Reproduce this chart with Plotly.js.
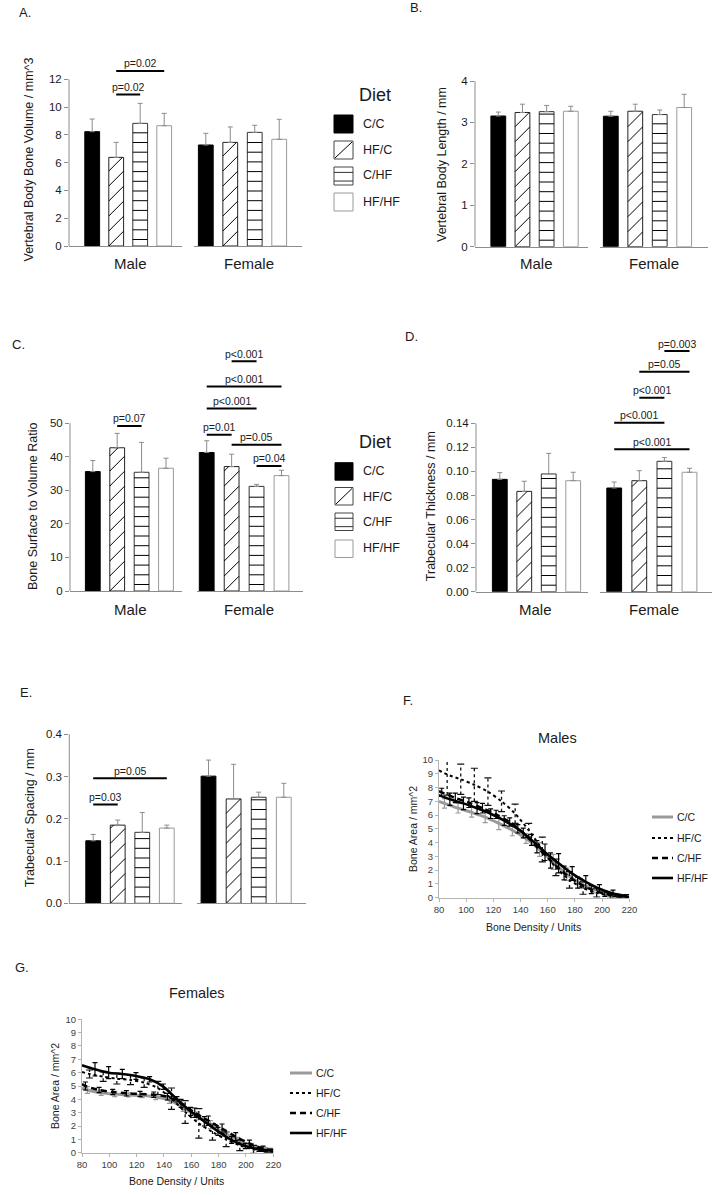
<!DOCTYPE html>
<html><head><meta charset="utf-8">
<script src="https://cdn.plot.ly/plotly-3.0.1.min.js"></script>
<style>html,body{margin:0;padding:0;background:#fff}#chart{width:715px;height:1195px}</style>
</head><body><div id="chart"></div>
<script>
// ---------------- DATA ----------------
const diets = ['C/C', 'HF/C', 'C/HF', 'HF/HF'];
const groups = ['Male', 'Female'];

// A. Vertebral body bone volume (mm^3)
const volumeMale = [8.23, 6.38, 8.83, 8.66];
const volumeMaleErr = [0.91, 1.08, 1.44, 0.89];
const volumeFemale = [7.27, 7.46, 8.18, 7.68];
const volumeFemaleErr = [0.84, 1.11, 0.51, 1.44];
const volumeTicks = [0, 2, 4, 6, 8, 10, 12];
const volumeTickText = ['0', '2', '4', '6', '8', '10', '12'];
const volumeSigGroup = ['Male', 'Male'];
const volumeSigFrom = [1, 1];
const volumeSigTo = [2, 3];
const volumeSigLevel = [10.9, 12.6];
const volumeSigText = ['p=0.02', 'p=0.02'];

// B. Vertebral body length (mm)
const lengthMale = [3.155, 3.24, 3.26, 3.27];
const lengthMaleErr = [0.095, 0.20, 0.15, 0.12];
const lengthFemale = [3.15, 3.27, 3.19, 3.36];
const lengthFemaleErr = [0.12, 0.17, 0.11, 0.32];
const lengthTicks = [0, 1, 2, 3, 4];
const lengthTickText = ['0', '1', '2', '3', '4'];

// C. Bone surface to volume ratio
const ratioMale = [35.6, 42.7, 35.4, 36.6];
const ratioMaleErr = [3.3, 4.3, 8.9, 3.0];
const ratioFemale = [41.3, 37.1, 31.2, 34.4];
const ratioFemaleErr = [3.5, 3.7, 0.6, 1.6];
const ratioTicks = [0, 10, 20, 30, 40, 50];
const ratioTickText = ['0', '10', '20', '30', '40', '50'];
const ratioSigGroup = ['Male', 'Female', 'Female', 'Female', 'Female', 'Female', 'Female'];
const ratioSigFrom = [1, 0, 1, 2, 0, 0, 1];
const ratioSigTo = [2, 1, 3, 3, 2, 3, 2];
const ratioSigLevel = [49.2, 46.6, 43.6, 37.3, 54.4, 61.0, 68.5];
const ratioSigText = ['p=0.07', 'p=0.01', 'p=0.05', 'p=0.04', 'p<0.001', 'p<0.001', 'p<0.001'];

// D. Trabecular thickness (mm)
const thickMale = [0.0934, 0.0834, 0.0979, 0.0923];
const thickMaleErr = [0.0056, 0.0084, 0.0171, 0.0070];
const thickFemale = [0.0862, 0.0923, 0.1084, 0.0993];
const thickFemaleErr = [0.0050, 0.0083, 0.0031, 0.0033];
const thickTicks = [0, 0.02, 0.04, 0.06, 0.08, 0.10, 0.12, 0.14];
const thickTickText = ['0.00', '0.02', '0.04', '0.06', '0.08', '0.10', '0.12', '0.14'];
const thickSigGroup = ['Female', 'Female', 'Female', 'Female', 'Female'];
const thickSigFrom = [0, 0, 1, 1, 2];
const thickSigTo = [3, 2, 2, 3, 3];
const thickSigLevel = [0.1184, 0.1405, 0.1613, 0.1829, 0.2001];
const thickSigText = ['p<0.001', 'p<0.001', 'p<0.001', 'p=0.05', 'p=0.003'];

// E. Trabecular spacing (mm)
const spacingMale = [0.148, 0.185, 0.168, 0.178];
const spacingMaleErr = [0.015, 0.012, 0.047, 0.007];
const spacingFemale = [0.301, 0.247, 0.251, 0.251];
const spacingFemaleErr = [0.038, 0.082, 0.012, 0.033];
const spacingTicks = [0, 0.1, 0.2, 0.3, 0.4];
const spacingTickText = ['0.0', '0.1', '0.2', '0.3', '0.4'];
const spacingSigGroup = ['Male', 'Male'];
const spacingSigFrom = [0, 0];
const spacingSigTo = [3, 1];
const spacingSigLevel = [0.296, 0.234];
const spacingSigText = ['p=0.05', 'p=0.03'];

// F/G. Bone area vs bone density
const densityTicks = [80, 100, 120, 140, 160, 180, 200, 220];
const areaTicks = [0, 1, 2, 3, 4, 5, 6, 7, 8, 9, 10];

// Males
const mDensCC = [80, 84, 94, 104, 114, 124, 134, 144, 154, 164, 174, 184, 194, 204, 214, 220];
const mAreaCC = [7.0, 6.85, 6.5, 6.2, 5.85, 5.4, 4.9, 4.3, 3.5, 2.6, 1.7, 1.05, 0.6, 0.3, 0.1, 0.05];
const mErrCC = [NaN, 0.35, 0.35, 0.35, 0.4, 0.45, 0.4, 0.35, 0.5, 0.55, 0.45, 0.35, 0.25, 0.15, 0.1, NaN];
const mDensHFC = [80, 86, 96, 106, 116, 126, 136, 146, 156, 166, 176, 186, 196, 206, 216, 220];
const mAreaHFC = [9.25, 8.95, 8.6, 8.2, 7.7, 7.0, 6.1, 4.9, 3.5, 2.2, 1.3, 0.7, 0.35, 0.15, 0.05, 0.02];
const mErrHFC = [NaN, 1.5, 1.1, 1.2, 1.0, 0.75, 0.7, 0.5, 0.9, 0.6, 0.6, 0.45, 0.3, 0.2, 0.1, NaN];
const mDensCHF = [80, 82, 92, 102, 112, 122, 132, 142, 152, 162, 172, 182, 192, 202, 212, 220];
const mAreaCHF = [7.75, 7.65, 7.25, 6.9, 6.5, 6.05, 5.5, 4.7, 3.7, 2.7, 1.8, 1.1, 0.6, 0.3, 0.12, 0.05];
const mErrCHF = [NaN, 0.3, 0.35, 0.35, 0.35, 0.3, 0.3, 0.35, 0.45, 0.55, 0.5, 0.4, 0.3, 0.2, 0.1, NaN];
const mDensHFHF = [80, 88, 98, 108, 118, 128, 138, 148, 158, 168, 178, 188, 198, 208, 218];
const mAreaHFHF = [7.45, 7.15, 6.85, 6.5, 6.1, 5.6, 5.0, 4.2, 3.3, 2.5, 1.75, 1.15, 0.65, 0.3, 0.12];
const mErrHFHF = [NaN, 0.45, 0.45, 0.4, 0.35, 0.35, 0.3, 0.4, 0.6, 0.7, 0.5, 0.45, 0.3, 0.25, 0.1];

// Females
const fDensCC = [80, 84, 94, 104, 114, 124, 134, 144, 154, 164, 174, 184, 194, 204, 214, 220];
const fAreaCC = [4.85, 4.7, 4.5, 4.4, 4.33, 4.28, 4.18, 3.95, 3.4, 2.75, 2.1, 1.5, 0.95, 0.55, 0.3, 0.25];
const fErrCC = [NaN, 0.25, 0.2, 0.2, 0.15, 0.15, 0.2, 0.25, 0.3, 0.3, 0.3, 0.25, 0.2, 0.15, 0.1, NaN];
const fDensHFC = [80, 85.5, 95.5, 105.5, 115.5, 125.5, 135.5, 145.5, 155.5, 165.5, 175.5, 185.5, 195.5, 205.5, 215.5, 220];
const fAreaHFC = [6.05, 5.9, 5.7, 5.55, 5.45, 5.25, 4.85, 4.05, 3.05, 2.2, 1.55, 1.0, 0.55, 0.25, 0.1, 0.05];
const fErrHFC = [NaN, 0.3, 0.35, 0.4, 0.35, 0.35, 0.5, 0.8, 0.85, 1.1, 0.6, 0.55, 0.4, 0.3, 0.1, NaN];
const fDensCHF = [80, 82.5, 92.5, 102.5, 112.5, 122.5, 132.5, 142.5, 152.5, 162.5, 172.5, 182.5, 192.5, 202.5, 212.5, 220];
const fAreaCHF = [5.15, 5.0, 4.7, 4.55, 4.45, 4.4, 4.35, 4.2, 3.7, 3.0, 2.4, 1.8, 1.2, 0.7, 0.3, 0.2];
const fErrCHF = [NaN, 0.3, 0.2, 0.2, 0.2, 0.2, 0.2, 0.25, 0.3, 0.35, 0.35, 0.35, 0.3, 0.25, 0.2, NaN];
const fDensHFHF = [80, 89.5, 99.5, 109.5, 119.5, 129.5, 139.5, 149.5, 159.5, 169.5, 179.5, 189.5, 199.5, 209.5, 219.5];
const fAreaHFHF = [6.55, 6.25, 6.0, 5.9, 5.75, 5.5, 4.95, 4.0, 3.1, 2.35, 1.6, 0.95, 0.5, 0.25, 0.15];
const fErrHFHF = [NaN, 0.5, 0.45, 0.35, 0.25, 0.2, 0.2, 0.2, 0.3, 0.35, 0.3, 0.25, 0.2, 0.15, 0.1];

// ---------------- STYLE / LAYOUT ----------------
const W = 715, H = 1195;
const fx = p => p / W;
const fy = p => 1 - p / H;
const FONT = '"Liberation Sans", Arial, Helvetica, sans-serif';
const TXT = '#1a1a1a';
const AXIS = '#8c8c8c';
const LIGHT = '#b4b4b4';
const BARPX = 14.8;      // bar width in px
const HSTEP = 9.7;       // horizontal hatch spacing (px)
const DSTEP = 15;        // diagonal hatch spacing (px)
const BAR = {
  fill: ['#000000', '#ffffff', '#ffffff', '#ffffff'],
  line: ['#000000', '#222222', '#333333', '#9a9a9a'],
  hatch: ['', '/', '-', '']
};
const LINES = [
  {color: '#9a9a9a', width: 3, dash: 'solid'},
  {color: '#000000', width: 2, dash: 'dot'},
  {color: '#000000', width: 2.5, dash: '6px,4px'},
  {color: '#000000', width: 2.6, dash: 'solid'}
];
const dietPos = diets.map((d, i) => i);

const layout = {
  width: W, height: H, margin: {l: 0, r: 0, t: 0, b: 0},
  paper_bgcolor: '#ffffff', plot_bgcolor: 'rgba(0,0,0,0)',
  showlegend: false, font: {family: FONT, color: TXT},
  annotations: [], shapes: [], hovermode: false
};
const traces = [];
let axN = 0;
function nextAxes() {
  axN++;
  const s = axN === 1 ? '' : String(axN);
  return {xa: 'x' + s, ya: 'y' + s, xk: 'xaxis' + s, yk: 'yaxis' + s};
}
function paperText(text, x, y, size, opts) {
  layout.annotations.push(Object.assign({
    xref: 'paper', yref: 'paper', x: fx(x), y: fy(y), text: text, showarrow: false,
    xanchor: 'center', yanchor: 'middle', font: {size: size, color: TXT, family: FONT}
  }, opts || {}));
}

// hatch lines inside the bars (computed from the bar values in axis units)
function hatchLines(vals, p, s, w) {
  const xs = [], ys = [];
  vals.forEach((v, i) => {
    const kind = BAR.hatch[i];
    const hpx = v * s;
    const left = i - w / 2;
    if (kind === '-') {
      for (let Y = 6.5; Y < hpx - 1.5; Y += HSTEP) {
        xs.push(left, left + w, null); ys.push(Y / s, Y / s, null);
      }
    } else if (kind === '/') {
      for (let c = Math.floor(-hpx / DSTEP) * DSTEP; c < BARPX; c += DSTEP) {
        const X0 = Math.max(0, c), X1 = Math.min(BARPX, hpx + c);
        if (X1 - X0 > 0.8) {
          xs.push(left + X0 / p, left + X1 / p, null);
          ys.push((X0 - c) / s, (X1 - c) / s, null);
        }
      }
    }
  });
  return {xs, ys};
}

function barPanel(g, d) {
  const tickTop = d.ticks[d.ticks.length - 1];
  const yTop = tickTop * (g.y0 - g.domTop) / (g.y0 - g.tickTopPx);
  const s = (g.y0 - g.tickTopPx) / tickTop; // px per y unit
  const yDom = [fy(g.y0), fy(g.domTop)];
  const ax = {};
  groups.forEach((grp, gi) => {
    const geo = gi === 0 ? g.m : g.f;
    const a = nextAxes();
    ax[grp] = a;
    const p = (geo.c3 - geo.c0) / 3;
    const w = BARPX / p;
    layout[a.xk] = {
      domain: [fx(geo.L), fx(geo.R)], anchor: a.ya,
      range: [(geo.L - geo.c0) / p, 3 + (geo.R - geo.c3) / p],
      showline: true, linecolor: AXIS, linewidth: 1, ticks: '', showticklabels: false,
      showgrid: false, zeroline: false, fixedrange: true
    };
    const yax = {domain: yDom, anchor: a.xa, range: [0, yTop], showgrid: false, zeroline: false,
      showline: false, fixedrange: true};
    if (gi === 0) {
      Object.assign(yax, {tickmode: 'array', tickvals: d.ticks, ticktext: d.tickText, ticks: 'outside',
        ticklen: 4, tickwidth: 1, tickcolor: AXIS, tickfont: {size: 11.5, color: TXT, family: FONT}});
    } else {
      Object.assign(yax, {showticklabels: false, ticks: ''});
    }
    layout[a.yk] = yax;
    const vals = gi === 0 ? d.male : d.female;
    traces.push({
      type: 'bar', x: dietPos, y: vals, text: diets, textposition: 'none', xaxis: a.xa, yaxis: a.ya,
      width: w, name: grp,
      marker: {color: BAR.fill, line: {color: BAR.line, width: 1}},
      error_y: {type: 'data', array: gi === 0 ? d.maleErr : d.femaleErr, symmetric: false,
        color: AXIS, thickness: 1, width: 2.5},
      hoverinfo: 'skip'
    });
    const h = hatchLines(vals, p, s, w);
    traces.push({type: 'scatter', mode: 'lines', x: h.xs, y: h.ys, xaxis: a.xa, yaxis: a.ya,
      line: {color: '#000000', width: 1}, connectgaps: false, hoverinfo: 'skip'});
  });
  layout.shapes.push({type: 'line', xref: 'paper', yref: ax.Male.ya, x0: fx(g.m.L), x1: fx(g.m.L),
    y0: 0, y1: tickTop, line: {color: AXIS, width: 1}});
  if (d.sig) {
    d.sig.group.forEach((grp, i) => {
      const a = ax[grp];
      layout.shapes.push({type: 'line', xref: a.xa, yref: a.ya, x0: d.sig.from[i], x1: d.sig.to[i],
        y0: d.sig.level[i], y1: d.sig.level[i], line: {color: '#000000', width: 2}});
      layout.annotations.push({xref: a.xa, yref: a.ya, x: (d.sig.from[i] + d.sig.to[i]) / 2,
        y: d.sig.level[i], yshift: 7.5, text: d.sig.text[i], showarrow: false,
        xanchor: 'center', yanchor: 'middle', font: {size: 10.5, color: TXT, family: FONT}});
    });
  }
  paperText(d.ytitle, g.titleX, g.titleY, 12.5, {textangle: -90});
  if (g.labelY) {
    paperText(groups[0], g.mLabelX, g.labelY, 15);
    paperText(groups[1], g.fLabelX, g.labelY, 15);
  }
  paperText(g.letter[0], g.letter[1], g.letter[2], 13, {xanchor: 'left'});
}

function barLegend(lg) {
  paperText('Diet', lg.titleX, lg.titleY, 18, {xanchor: 'left'});
  diets.forEach((name, i) => {
    const t = lg.tops[i], b = t + lg.h;
    layout.shapes.push({type: 'rect', xref: 'paper', yref: 'paper', x0: fx(lg.x0), x1: fx(lg.x1),
      y0: fy(b), y1: fy(t), fillcolor: BAR.fill[i], line: {color: i === 3 ? '#9a9a9a' : (i === 0 ? '#000' : '#444'), width: 1}});
    if (BAR.hatch[i] === '/') {
      layout.shapes.push({type: 'line', xref: 'paper', yref: 'paper', x0: fx(lg.x0 + 1), x1: fx(lg.x1 - 1),
        y0: fy(b - 1), y1: fy(t + 1), line: {color: '#000', width: 1}});
    } else if (BAR.hatch[i] === '-') {
      [0.3, 0.78].forEach(fr => layout.shapes.push({type: 'line', xref: 'paper', yref: 'paper',
        x0: fx(lg.x0), x1: fx(lg.x1), y0: fy(t + fr * lg.h), y1: fy(t + fr * lg.h), line: {color: '#333', width: 1}}));
    }
    paperText(name, lg.textX, lg.textY[i], 12.5, {xanchor: 'left'});
  });
}

function densityPanel(g, series) {
  const a = nextAxes();
  const common = {showline: true, linecolor: LIGHT, linewidth: 1, ticks: 'outside', ticklen: 3, tickcolor: LIGHT,
    showgrid: false, zeroline: false, fixedrange: true, tickfont: {size: 9.5, color: '#404040', family: FONT}, tickmode: 'array'};
  layout[a.xk] = Object.assign({domain: [fx(g.L), fx(g.R)], anchor: a.ya, range: [80, 220], tickvals: densityTicks}, common);
  layout[a.yk] = Object.assign({domain: [fy(g.B), fy(g.T)], anchor: a.xa, range: [0, 10], tickvals: areaTicks}, common);
  series.forEach((sr, i) => {
    const st = LINES[i];
    const tr = {type: 'scatter', mode: 'lines', name: diets[i], x: sr[0], y: sr[1], xaxis: a.xa, yaxis: a.ya,
      line: {color: st.color, width: st.width, dash: st.dash, shape: 'spline', smoothing: 0.8}, hoverinfo: 'skip'};
    if (st.dash === 'dot') {
      // dotted error bars, as in the reference
      const ex = [], ey = [];
      sr[0].forEach((xv, k) => {
        if (isFinite(sr[2][k])) { ex.push(xv, xv, null); ey.push(sr[1][k] - sr[2][k], sr[1][k] + sr[2][k], null); }
      });
      traces.push(tr);
      traces.push({type: 'scatter', mode: 'lines+markers', x: ex, y: ey, xaxis: a.xa, yaxis: a.ya,
        line: {color: '#111', width: 1.3, dash: 'dot'},
        marker: {symbol: 'line-ew', size: 5, color: '#111', line: {color: '#111', width: 1.2}}, hoverinfo: 'skip'});
    } else {
      tr.error_y = {type: 'data', array: sr[2], color: st.color, thickness: 1.2, width: 2.5};
      traces.push(tr);
    }
  });
  paperText(g.title, g.titleX, g.titleY, 14.5);
  paperText('Bone Density / Units', g.xtX, g.xtY, 10.5);
  paperText('Bone Area / mm^2', g.ytX, g.ytY, 10.5, {textangle: -90});
  paperText(g.letter[0], g.letter[1], g.letter[2], 13, {xanchor: 'left'});
  diets.forEach((name, i) => {
    layout.shapes.push({type: 'line', xref: 'paper', yref: 'paper', x0: fx(g.lgX0), x1: fx(g.lgX1),
      y0: fy(g.lgY[i]), y1: fy(g.lgY[i]), line: {color: LINES[i].color, width: LINES[i].width, dash: LINES[i].dash}});
    paperText(name, g.lgX1 + 1.5, g.lgY[i], 10.5, {xanchor: 'left'});
  });
}

// ---------------- BUILD ----------------
barPanel({y0: 246, tickTopPx: 79.3, domTop: 50,
  m: {L: 69, R: 181.7, c0: 92.2, c3: 164.2}, f: {L: 194.3, R: 301.7, c0: 205.8, c3: 279.2},
  titleX: 28.5, titleY: 160, labelY: 263.3, mLabelX: 130, fLabelX: 248.8, letter: ['A.', 17, 12]},
  {male: volumeMale, maleErr: volumeMaleErr, female: volumeFemale, femaleErr: volumeFemaleErr,
   ticks: volumeTicks, tickText: volumeTickText, ytitle: 'Vertebral Body Bone Volume / mm^3',
   sig: {group: volumeSigGroup, from: volumeSigFrom, to: volumeSigTo, level: volumeSigLevel, text: volumeSigText}});

barPanel({y0: 246.7, tickTopPx: 81, domTop: 70,
  m: {L: 475, R: 588.3, c0: 498.3, c3: 570.8}, f: {L: 600, R: 708.3, c0: 610.8, c3: 684.2},
  titleX: 442, titleY: 165, labelY: 263.3, mLabelX: 536.3, fLabelX: 654, letter: ['B.', 408, 8]},
  {male: lengthMale, maleErr: lengthMaleErr, female: lengthFemale, femaleErr: lengthFemaleErr,
   ticks: lengthTicks, tickText: lengthTickText, ytitle: 'Vertebral Body Length / mm'});

barPanel({y0: 591, tickTopPx: 423.3, domTop: 345,
  m: {L: 70, R: 181.7, c0: 92.8, c3: 166}, f: {L: 196.7, R: 303.3, c0: 206.7, c3: 281.5},
  titleX: 33, titleY: 506, labelY: 609.3, mLabelX: 130, fLabelX: 248.8, letter: ['C.', 10, 344]},
  {male: ratioMale, maleErr: ratioMaleErr, female: ratioFemale, femaleErr: ratioFemaleErr,
   ticks: ratioTicks, tickText: ratioTickText, ytitle: 'Bone Surface to Volume Ratio',
   sig: {group: ratioSigGroup, from: ratioSigFrom, to: ratioSigTo, level: ratioSigLevel, text: ratioSigText}});

barPanel({y0: 591.7, tickTopPx: 423.3, domTop: 335,
  m: {L: 476, R: 588.3, c0: 499.8, c3: 573.2}, f: {L: 600, R: 711.7, c0: 614.2, c3: 689.5},
  titleX: 430.5, titleY: 506.7, labelY: 609.3, mLabelX: 535.5, fLabelX: 654.3, letter: ['D.', 403, 337]},
  {male: thickMale, maleErr: thickMaleErr, female: thickFemale, femaleErr: thickFemaleErr,
   ticks: thickTicks, tickText: thickTickText, ytitle: 'Trabecular Thickness / mm',
   sig: {group: thickSigGroup, from: thickSigFrom, to: thickSigTo, level: thickSigLevel, text: thickSigText}});

barPanel({y0: 903.3, tickTopPx: 734.3, domTop: 725,
  m: {L: 69.3, R: 181.7, c0: 93.2, c3: 166.8}, f: {L: 196.7, R: 306, c0: 208.5, c3: 283.8},
  titleX: 30, titleY: 818.3, labelY: null, letter: ['E.', 18, 692]},
  {male: spacingMale, maleErr: spacingMaleErr, female: spacingFemale, femaleErr: spacingFemaleErr,
   ticks: spacingTicks, tickText: spacingTickText, ytitle: 'Trabecular Spacing / mm',
   sig: {group: spacingSigGroup, from: spacingSigFrom, to: spacingSigTo, level: spacingSigLevel, text: spacingSigText}});

barLegend({titleX: 357, titleY: 95, x0: 334, x1: 353, h: 18, tops: [115, 141, 167, 193],
  textX: 361, textY: [123.5, 149.5, 175.5, 201.5]});
barLegend({titleX: 357, titleY: 441.7, x0: 335, x1: 353, h: 17.5, tops: [462.7, 487.5, 513, 540],
  textX: 361, textY: [471, 496.7, 522.3, 548.3]});

densityPanel({L: 439, R: 629.3, T: 760, B: 897.7, title: 'Males', titleX: 557, titleY: 738,
  xtX: 533, xtY: 927, ytX: 413, ytY: 829, letter: ['F.', 401, 700],
  lgX0: 652, lgX1: 673, lgY: [817, 838, 858, 878]},
  [[mDensCC, mAreaCC, mErrCC], [mDensHFC, mAreaHFC, mErrHFC], [mDensCHF, mAreaCHF, mErrCHF], [mDensHFHF, mAreaHFHF, mErrHFHF]]);

densityPanel({L: 82, R: 273.3, T: 1019.3, B: 1152.7, title: 'Females', titleX: 196.7, titleY: 993.3,
  xtX: 176.7, xtY: 1180.7, ytX: 55, ytY: 1086, letter: ['G.', 13, 967],
  lgX0: 290, lgX1: 312, lgY: [1073, 1093, 1113, 1133]},
  [[fDensCC, fAreaCC, fErrCC], [fDensHFC, fAreaHFC, fErrHFC], [fDensCHF, fAreaCHF, fErrCHF], [fDensHFHF, fAreaHFHF, fErrHFHF]]);

Plotly.newPlot('chart', traces, layout, {displayModeBar: false, staticPlot: true});
</script>
</body></html>
